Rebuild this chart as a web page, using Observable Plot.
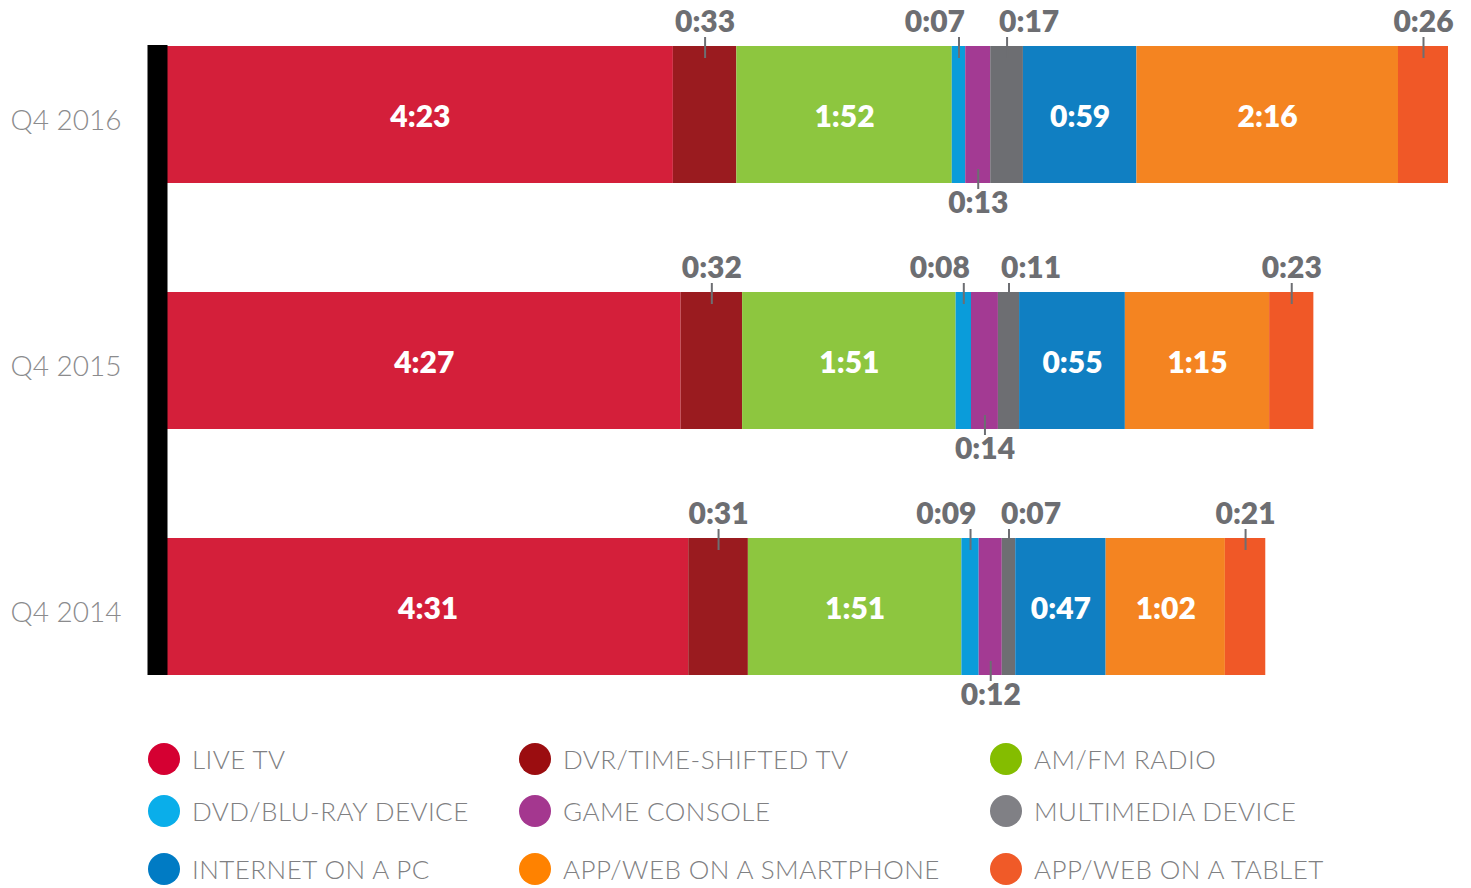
<!DOCTYPE html>
<html><head><meta charset="utf-8">
<script src="https://cdn.jsdelivr.net/npm/d3@7"></script>
<script src="https://cdn.jsdelivr.net/npm/@observablehq/plot@0.6"></script>
<style>
body{margin:0;background:#fff;font-family:Lato,"Noto Sans",sans-serif;}
#chart{position:relative;width:1471px;}
.legend{position:relative;height:168px;width:1471px;}
.item{position:absolute;display:flex;align-items:center;height:32px;}
.dot{width:32px;height:32px;border-radius:50%;margin-right:12px;flex:none;}
.lab{font-size:26px;font-weight:300;color:#808082;white-space:nowrap;letter-spacing:0.45px;}
</style></head><body><div id="chart"></div>
<script>
const periods = ["Q4 2016", "Q4 2015", "Q4 2014"];
const categories = ["LIVE TV", "DVR/TIME-SHIFTED TV", "AM/FM RADIO", "DVD/BLU-RAY DEVICE", "GAME CONSOLE", "MULTIMEDIA DEVICE", "INTERNET ON A PC", "APP/WEB ON A SMARTPHONE", "APP/WEB ON A TABLET"];
// minutes per day, in category order
const minutes2016 = [263, 33, 112, 7, 13, 17, 59, 136, 26];
const minutes2015 = [267, 32, 111, 8, 14, 11, 55, 75, 23];
const minutes2014 = [271, 31, 111, 9, 12, 7, 47, 62, 21];
const barColors = ["#d41f3a", "#9a1b1f", "#8dc63f", "#0a9cda", "#a33a93", "#6d6e72", "#107fc2", "#f48421", "#f05827"];
const legendColors = ["#d50032", "#9b0d10", "#84bd00", "#0aaeea", "#a4378f", "#808085", "#007bc4", "#ff8200", "#f05a28"];
const labelPlacement = ["inside", "above", "inside", "above-left", "below", "above-right", "inside", "inside", "above"];

const fmt = m => `${Math.floor(m / 60)}:${String(m % 60).padStart(2, "0")}`;
const series = [minutes2016, minutes2015, minutes2014];
const rows = [];
series.forEach((vals, i) => {
  let acc = 0;
  vals.forEach((v, j) => {
    rows.push({period: periods[i], category: categories[j], minutes: v, start: acc, end: acc + v, mid: acc + v / 2, label: fmt(v), place: labelPlacement[j]});
    acc += v;
  });
});
const maxTotal = d3.max(series, s => d3.sum(s));
const inside = rows.filter(d => d.place === "inside");
const above = rows.filter(d => d.place.startsWith("above"));
const below = rows.filter(d => d.place === "below");
const gray = "#6d6e72";
const lw = 800;

const plot = Plot.plot({
  width: 1471, height: 720,
  marginLeft: 167, marginRight: 23, marginTop: 45, marginBottom: 45,
  x: {domain: [0, maxTotal], axis: null},
  y: {domain: periods, paddingInner: 0.444, paddingOuter: 0, label: null, axis: null},
  color: {domain: categories, range: barColors},
  style: {fontFamily: "Lato, 'Noto Sans', sans-serif", background: "white", overflow: "visible"},
  marks: [
    Plot.axisY({tickSize: 0, tickPadding: 46, fontSize: 28, fontWeight: 300, color: "#8b8b8d", dy: 6, label: null}),
    Plot.barX(rows, {x1: "start", x2: "end", y: "period", fill: "category"}),
    Plot.ruleX([0], {stroke: "black", strokeWidth: 20, dx: -10}),
    Plot.text(inside, {x: "mid", y: "period", text: "label", fill: "white", fontSize: 30, fontWeight: lw, dy: 2}),
    Plot.tickX(above, {x: "mid", y: "period", stroke: gray, strokeWidth: 2, insetTop: -9, insetBottom: 125}),
    Plot.tickX(below, {x: "mid", y: "period", stroke: gray, strokeWidth: 2, insetTop: 123, insetBottom: -6}),
    Plot.text(above.filter(d => d.place === "above"), {x: "mid", y: "period", text: "label", fill: gray, fontSize: 30, fontWeight: lw, dy: -93}),
    Plot.text(above.filter(d => d.place === "above-left"), {x: "mid", y: "period", text: "label", fill: gray, fontSize: 30, fontWeight: lw, dy: -93, dx: 6, textAnchor: "end"}),
    Plot.text(above.filter(d => d.place === "above-right"), {x: "mid", y: "period", text: "label", fill: gray, fontSize: 30, fontWeight: lw, dy: -93, dx: -8, textAnchor: "start"}),
    Plot.text(below, {x: "mid", y: "period", text: "label", fill: gray, fontSize: 30, fontWeight: lw, dy: 88})
  ]
});
const chart = document.getElementById("chart");
chart.appendChild(plot);

const legend = document.createElement("div");
legend.className = "legend";
const colLeft = [148, 519, 990];
const rowCenter = [39, 91, 149];
categories.forEach((c, i) => {
  const item = document.createElement("div");
  item.className = "item";
  item.style.left = colLeft[i % 3] + "px";
  item.style.top = (rowCenter[Math.floor(i / 3)] - 16) + "px";
  const dot = document.createElement("span");
  dot.className = "dot";
  dot.style.background = legendColors[i];
  const lab = document.createElement("span");
  lab.className = "lab";
  lab.textContent = c;
  item.appendChild(dot); item.appendChild(lab);
  legend.appendChild(item);
});
chart.appendChild(legend);
</script></body></html>
